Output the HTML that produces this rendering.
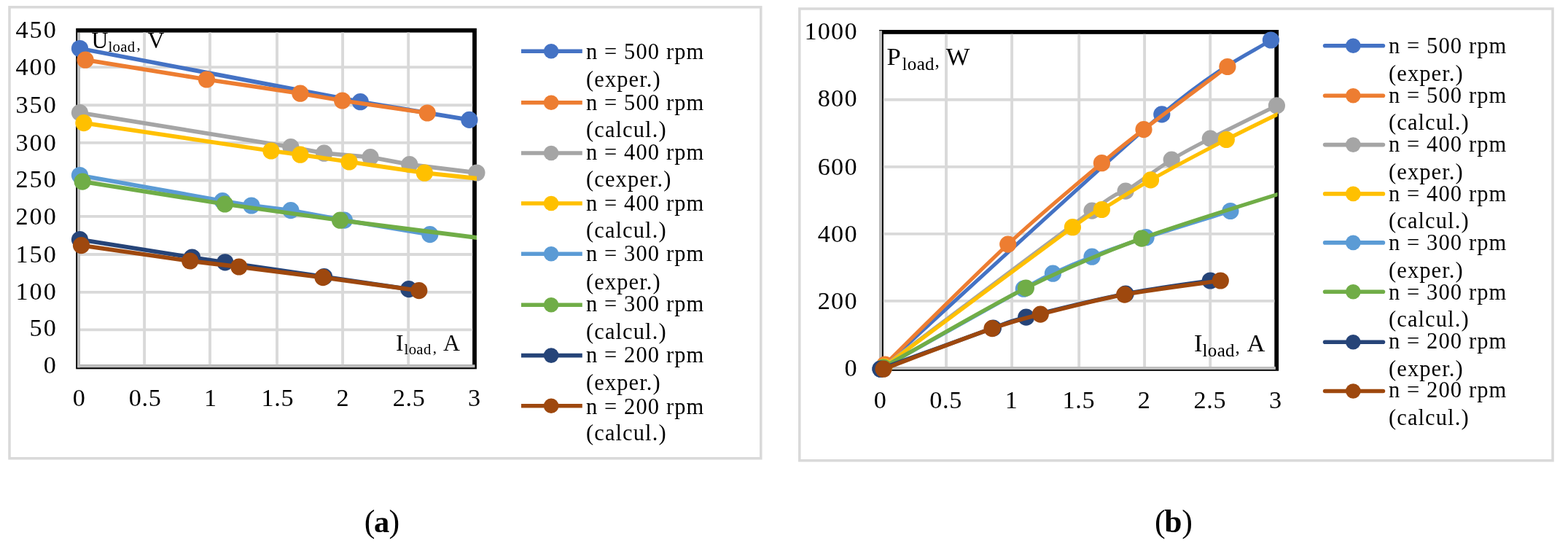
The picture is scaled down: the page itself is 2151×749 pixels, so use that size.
<!DOCTYPE html>
<html lang="en">
<head>
<meta charset="utf-8">
<title>Load characteristics</title>
<style>
html,body{margin:0;padding:0;background:#fff;}
body{width:2151px;height:749px;overflow:hidden;}
svg{display:block;}
svg text{font-family:"Liberation Serif", serif;font-size:33.3px;fill:#000;}
svg text.ax{font-size:34.2px;letter-spacing:2px;}
svg text.lg{font-size:30.5px;letter-spacing:1.1px;}
svg text.axb{letter-spacing:1.2px;}
svg text.axd{letter-spacing:0.7px;}
svg text.tl{letter-spacing:0.3px;}
</style>
</head>
<body>
<svg width="2151" height="749" viewBox="0 0 2151 749">
<rect x="0" y="0" width="2151" height="749" fill="#fff"/>
<g id="chart1">
<rect x="13" y="9.8" width="1030.8" height="619.0" fill="#fff" stroke="#D9D9D9" stroke-width="3.5"/>
<rect x="107.1" y="41.7" width="543.90" height="461.70" fill="#fff" stroke="#000" stroke-width="5.8"/>
<line x1="198.1" y1="44.5" x2="198.1" y2="500.6" stroke="#D9D9D9" stroke-width="3.9"/>
<line x1="288.0" y1="44.5" x2="288.0" y2="500.6" stroke="#D9D9D9" stroke-width="3.9"/>
<line x1="380.0" y1="44.5" x2="380.0" y2="500.6" stroke="#D9D9D9" stroke-width="3.9"/>
<line x1="470.1" y1="44.5" x2="470.1" y2="500.6" stroke="#D9D9D9" stroke-width="3.9"/>
<line x1="560.2" y1="44.5" x2="560.2" y2="500.6" stroke="#D9D9D9" stroke-width="3.9"/>
<line x1="109.9" y1="92.1" x2="648.2" y2="92.1" stroke="#D9D9D9" stroke-width="3.9"/>
<line x1="109.9" y1="144.2" x2="648.2" y2="144.2" stroke="#D9D9D9" stroke-width="3.9"/>
<line x1="109.9" y1="195.9" x2="648.2" y2="195.9" stroke="#D9D9D9" stroke-width="3.9"/>
<line x1="109.9" y1="247.5" x2="648.2" y2="247.5" stroke="#D9D9D9" stroke-width="3.9"/>
<line x1="109.9" y1="296.9" x2="648.2" y2="296.9" stroke="#D9D9D9" stroke-width="3.9"/>
<line x1="109.9" y1="349.0" x2="648.2" y2="349.0" stroke="#D9D9D9" stroke-width="3.9"/>
<line x1="109.9" y1="400.9" x2="648.2" y2="400.9" stroke="#D9D9D9" stroke-width="3.9"/>
<line x1="109.9" y1="452.4" x2="648.2" y2="452.4" stroke="#D9D9D9" stroke-width="3.9"/>
<line x1="108" y1="44.5" x2="108" y2="504.3" stroke="#BFBFBF" stroke-width="3.9"/>
<line x1="106" y1="502.3" x2="651.5" y2="502.3" stroke="#BFBFBF" stroke-width="3.9"/>
<text class="tl"><tspan x="125.6" y="65.6" style="font-size:31.8px">U</tspan><tspan x="148.4" y="70.6" style="font-size:20.8px">load</tspan><tspan dx="2.2" dy="-2.6" style="font-size:20.8px">, </tspan><tspan x="202.6" y="65.6" style="font-size:31.8px">V</tspan></text>
<text class="tl"><tspan x="543" y="481" style="font-size:31.8px">I</tspan><tspan x="554.6" y="486.2" style="font-size:20.8px">load</tspan><tspan dx="2.2" dy="-2.6" style="font-size:20.8px">, </tspan><tspan x="608" y="481" style="font-size:31.8px">A</tspan></text>
<clipPath id="clip1"><rect x="87.1" y="21.7" width="566.90" height="501.70"/></clipPath>
<polyline points="109.5,66.5 494.3,139.7 643.9,164.4" fill="none" stroke="#4472C4" stroke-width="5.8" stroke-linejoin="round" clip-path="url(#clip1)"/>
<circle cx="109.5" cy="66.5" r="11.6" fill="#4472C4"/>
<circle cx="494.3" cy="139.7" r="11.6" fill="#4472C4"/>
<circle cx="643.9" cy="164.4" r="11.6" fill="#4472C4"/>
<polyline points="117.1,82.2 283.4,109.0 411.9,128.2 469.6,138.0 586.2,155.0" fill="none" stroke="#ED7D31" stroke-width="5.8" stroke-linejoin="round" clip-path="url(#clip1)"/>
<circle cx="117.1" cy="82.2" r="11.6" fill="#ED7D31"/>
<circle cx="283.4" cy="109.0" r="11.6" fill="#ED7D31"/>
<circle cx="411.9" cy="128.2" r="11.6" fill="#ED7D31"/>
<circle cx="469.6" cy="138.0" r="11.6" fill="#ED7D31"/>
<circle cx="586.2" cy="155.0" r="11.6" fill="#ED7D31"/>
<polyline points="109.5,154.6 398.9,201.6 444.6,210.2 508.1,215.6 561.8,225.6 653.9,237.0" fill="none" stroke="#A5A5A5" stroke-width="5.8" stroke-linejoin="round" clip-path="url(#clip1)"/>
<circle cx="109.5" cy="154.6" r="11.6" fill="#A5A5A5"/>
<circle cx="398.9" cy="201.6" r="11.6" fill="#A5A5A5"/>
<circle cx="444.6" cy="210.2" r="11.6" fill="#A5A5A5"/>
<circle cx="508.1" cy="215.6" r="11.6" fill="#A5A5A5"/>
<circle cx="561.8" cy="225.6" r="11.6" fill="#A5A5A5"/>
<circle cx="653.9" cy="237.0" r="11.6" fill="#A5A5A5"/>
<polyline points="114.9,168.6 371.9,207.0 411.9,212.2 479.0,222.0 582.4,237.2 700.5,249.7" fill="none" stroke="#FFC000" stroke-width="5.8" stroke-linejoin="round" clip-path="url(#clip1)"/>
<circle cx="114.9" cy="168.6" r="11.6" fill="#FFC000"/>
<circle cx="371.9" cy="207.0" r="11.6" fill="#FFC000"/>
<circle cx="411.9" cy="212.2" r="11.6" fill="#FFC000"/>
<circle cx="479.0" cy="222.0" r="11.6" fill="#FFC000"/>
<circle cx="582.4" cy="237.2" r="11.6" fill="#FFC000"/>
<polyline points="109.5,240.5 305.2,275.6 344.9,282.0 398.9,288.6 472.4,302.1 589.8,321.6" fill="none" stroke="#5B9BD5" stroke-width="5.8" stroke-linejoin="round" clip-path="url(#clip1)"/>
<circle cx="109.5" cy="240.5" r="11.6" fill="#5B9BD5"/>
<circle cx="305.2" cy="275.6" r="11.6" fill="#5B9BD5"/>
<circle cx="344.9" cy="282.0" r="11.6" fill="#5B9BD5"/>
<circle cx="398.9" cy="288.6" r="11.6" fill="#5B9BD5"/>
<circle cx="472.4" cy="302.1" r="11.6" fill="#5B9BD5"/>
<circle cx="589.8" cy="321.6" r="11.6" fill="#5B9BD5"/>
<polyline points="113.1,249.1 308.4,280.0 466.6,302.2 700.5,331.9" fill="none" stroke="#70AD47" stroke-width="5.8" stroke-linejoin="round" clip-path="url(#clip1)"/>
<circle cx="113.1" cy="249.1" r="11.6" fill="#70AD47"/>
<circle cx="308.4" cy="280.0" r="11.6" fill="#70AD47"/>
<circle cx="466.6" cy="302.2" r="11.6" fill="#70AD47"/>
<polyline points="109.5,328.6 263.5,353.0 308.8,359.8 444.6,379.6 560.8,396.6" fill="none" stroke="#264478" stroke-width="5.8" stroke-linejoin="round" clip-path="url(#clip1)"/>
<circle cx="109.5" cy="328.6" r="11.6" fill="#264478"/>
<circle cx="263.5" cy="353.0" r="11.6" fill="#264478"/>
<circle cx="308.8" cy="359.8" r="11.6" fill="#264478"/>
<circle cx="444.6" cy="379.6" r="11.6" fill="#264478"/>
<circle cx="560.8" cy="396.6" r="11.6" fill="#264478"/>
<polyline points="111.5,336.6 260.7,358.0 327.8,366.0 443.0,380.6 574.8,398.6" fill="none" stroke="#9E480E" stroke-width="5.8" stroke-linejoin="round" clip-path="url(#clip1)"/>
<circle cx="111.5" cy="336.6" r="11.6" fill="#9E480E"/>
<circle cx="260.7" cy="358.0" r="11.6" fill="#9E480E"/>
<circle cx="327.8" cy="366.0" r="11.6" fill="#9E480E"/>
<circle cx="443.0" cy="380.6" r="11.6" fill="#9E480E"/>
<circle cx="574.8" cy="398.6" r="11.6" fill="#9E480E"/>
<text class="ax" x="78.8" y="51.6" text-anchor="end">450</text>
<text class="ax" x="78.8" y="103.3" text-anchor="end">400</text>
<text class="ax" x="78.8" y="155.4" text-anchor="end">350</text>
<text class="ax" x="78.8" y="207.1" text-anchor="end">300</text>
<text class="ax" x="78.8" y="257.4" text-anchor="end">250</text>
<text class="ax" x="78.8" y="308.1" text-anchor="end">200</text>
<text class="ax" x="78.8" y="359.8" text-anchor="end">150</text>
<text class="ax" x="78.8" y="411.3" text-anchor="end">100</text>
<text class="ax" x="78.8" y="460.8" text-anchor="end">50</text>
<text class="ax" x="78.8" y="512.3" text-anchor="end">0</text>
<text class="ax" x="109.3" y="557.0" text-anchor="middle">0</text>
<text class="ax axd" x="199.2" y="557.0" text-anchor="middle">0.5</text>
<text class="ax" x="289.6" y="557.0" text-anchor="middle">1</text>
<text class="ax axd" x="380.8" y="557.0" text-anchor="middle">1.5</text>
<text class="ax" x="471.1" y="557.0" text-anchor="middle">2</text>
<text class="ax axd" x="561.2" y="557.0" text-anchor="middle">2.5</text>
<text class="ax" x="651.5" y="557.0" text-anchor="middle">3</text>
</g>
<g>
<line x1="715" y1="70.2" x2="798.8" y2="70.2" stroke="#4472C4" stroke-width="5.6" stroke-linecap="butt"/>
<circle cx="756.1" cy="70.2" r="10.3" fill="#4472C4"/>
<text class="lg" x="804" y="81.0">n = 500 rpm</text>
<text class="lg" x="804" y="119.0">(exper.)</text>
<line x1="715" y1="140.7" x2="798.8" y2="140.7" stroke="#ED7D31" stroke-width="5.6" stroke-linecap="butt"/>
<circle cx="756.1" cy="140.7" r="10.3" fill="#ED7D31"/>
<text class="lg" x="804" y="150.5">n = 500 rpm</text>
<text class="lg" x="804" y="188.2">(calcul.)</text>
<line x1="715" y1="210.0" x2="798.8" y2="210.0" stroke="#A5A5A5" stroke-width="5.6" stroke-linecap="butt"/>
<circle cx="756.1" cy="210.0" r="10.3" fill="#A5A5A5"/>
<text class="lg" x="804" y="219.0">n = 400 rpm</text>
<text class="lg" x="804" y="256.4">(cexper.)</text>
<line x1="715" y1="279.0" x2="798.8" y2="279.0" stroke="#FFC000" stroke-width="5.6" stroke-linecap="butt"/>
<circle cx="756.1" cy="279.0" r="10.3" fill="#FFC000"/>
<text class="lg" x="804" y="288.6">n = 400 rpm</text>
<text class="lg" x="804" y="326.4">(calcul.)</text>
<line x1="715" y1="348.2" x2="798.8" y2="348.2" stroke="#5B9BD5" stroke-width="5.6" stroke-linecap="butt"/>
<circle cx="756.1" cy="348.2" r="10.3" fill="#5B9BD5"/>
<text class="lg" x="804" y="357.9">n = 300 rpm</text>
<text class="lg" x="804" y="396.6">(exper.)</text>
<line x1="715" y1="418.3" x2="798.8" y2="418.3" stroke="#70AD47" stroke-width="5.6" stroke-linecap="butt"/>
<circle cx="756.1" cy="418.3" r="10.3" fill="#70AD47"/>
<text class="lg" x="804" y="427.4">n = 300 rpm</text>
<text class="lg" x="804" y="465.4">(calcul.)</text>
<line x1="715" y1="487.6" x2="798.8" y2="487.6" stroke="#264478" stroke-width="5.6" stroke-linecap="butt"/>
<circle cx="756.1" cy="487.6" r="10.3" fill="#264478"/>
<text class="lg" x="804" y="496.7">n = 200 rpm</text>
<text class="lg" x="804" y="534.9">(exper.)</text>
<line x1="715" y1="556.8" x2="798.8" y2="556.8" stroke="#9E480E" stroke-width="5.6" stroke-linecap="butt"/>
<circle cx="756.1" cy="556.8" r="10.3" fill="#9E480E"/>
<text class="lg" x="804" y="567.5">n = 200 rpm</text>
<text class="lg" x="804" y="603.6">(calcul.)</text>
</g>
<g id="chart2">
<rect x="1096.8" y="12" width="1033.2" height="619.8" fill="#fff" stroke="#D9D9D9" stroke-width="3.5"/>
<rect x="1209" y="43.9" width="542.20" height="462.00" fill="#fff" stroke="#000" stroke-width="5.8"/>
<line x1="1298.0" y1="46.7" x2="1298.0" y2="503.1" stroke="#D9D9D9" stroke-width="3.9"/>
<line x1="1388.1" y1="46.7" x2="1388.1" y2="503.1" stroke="#D9D9D9" stroke-width="3.9"/>
<line x1="1480.2" y1="46.7" x2="1480.2" y2="503.1" stroke="#D9D9D9" stroke-width="3.9"/>
<line x1="1570.1" y1="46.7" x2="1570.1" y2="503.1" stroke="#D9D9D9" stroke-width="3.9"/>
<line x1="1660.2" y1="46.7" x2="1660.2" y2="503.1" stroke="#D9D9D9" stroke-width="3.9"/>
<line x1="1211.8" y1="136.8" x2="1748.4" y2="136.8" stroke="#D9D9D9" stroke-width="3.9"/>
<line x1="1211.8" y1="228.9" x2="1748.4" y2="228.9" stroke="#D9D9D9" stroke-width="3.9"/>
<line x1="1211.8" y1="320.9" x2="1748.4" y2="320.9" stroke="#D9D9D9" stroke-width="3.9"/>
<line x1="1211.8" y1="412.9" x2="1748.4" y2="412.9" stroke="#D9D9D9" stroke-width="3.9"/>
<line x1="1208" y1="42.2" x2="1208" y2="507" stroke="#BFBFBF" stroke-width="3.9"/>
<line x1="1206" y1="505" x2="1749.9" y2="505" stroke="#BFBFBF" stroke-width="3.9"/>
<text class="tl"><tspan x="1216.4" y="88.9" style="font-size:34.6px">P</tspan><tspan x="1237.6" y="96.2" style="font-size:25px">load</tspan><tspan dx="0.6" dy="-4.6" style="font-size:25px">, </tspan><tspan x="1297.8" y="88.9" style="font-size:34.6px">W</tspan></text>
<text class="tl"><tspan x="1638" y="482.4" style="font-size:34.6px">I</tspan><tspan x="1649.6" y="489.4" style="font-size:25px">load</tspan><tspan dx="0.6" dy="-4.6" style="font-size:25px">, </tspan><tspan x="1710.4" y="482.4" style="font-size:34.6px">A</tspan></text>
<clipPath id="clip2"><rect x="1189" y="23.9" width="563.60" height="502.00"/></clipPath>
<path d="M1208.0,506.2 C1267.8,452.1 1510.8,226.8 1593.8,156.9 C1676.8,87.0 1720.2,70.8 1743.4,55.0" fill="none" stroke="#4472C4" stroke-width="5.1" stroke-linejoin="round" clip-path="url(#clip2)"/>
<circle cx="1208.0" cy="506.2" r="11.6" fill="#4472C4"/>
<circle cx="1593.8" cy="156.9" r="11.6" fill="#4472C4"/>
<circle cx="1743.4" cy="55.0" r="11.6" fill="#4472C4"/>
<path d="M1214.0,500.0 C1240.1,474.4 1336.6,377.9 1382.7,335.1 C1428.8,292.3 1482.5,248.1 1511.4,223.7 C1540.3,199.3 1542.3,198.1 1569.0,177.6 C1595.7,157.1 1666.1,104.8 1683.9,91.5" fill="none" stroke="#ED7D31" stroke-width="5.1" stroke-linejoin="round" clip-path="url(#clip2)"/>
<circle cx="1214.0" cy="500.0" r="11.6" fill="#ED7D31"/>
<circle cx="1382.7" cy="335.1" r="11.6" fill="#ED7D31"/>
<circle cx="1511.4" cy="223.7" r="11.6" fill="#ED7D31"/>
<circle cx="1569.0" cy="177.6" r="11.6" fill="#ED7D31"/>
<circle cx="1683.9" cy="91.5" r="11.6" fill="#ED7D31"/>
<path d="M1208.0,506.0 C1253.0,472.4 1445.9,326.9 1498.0,289.1 C1550.1,251.3 1527.2,273.0 1544.1,262.1 C1561.0,251.3 1589.2,230.3 1607.2,219.1 C1625.2,207.9 1637.9,201.6 1660.3,190.1 C1682.7,178.6 1737.3,151.9 1751.4,144.9" fill="none" stroke="#A5A5A5" stroke-width="5.2" stroke-linejoin="round" clip-path="url(#clip2)"/>
<circle cx="1208.0" cy="506.0" r="11.6" fill="#A5A5A5"/>
<circle cx="1498.0" cy="289.1" r="11.6" fill="#A5A5A5"/>
<circle cx="1544.1" cy="262.1" r="11.6" fill="#A5A5A5"/>
<circle cx="1607.2" cy="219.1" r="11.6" fill="#A5A5A5"/>
<circle cx="1660.3" cy="190.1" r="11.6" fill="#A5A5A5"/>
<circle cx="1751.4" cy="144.9" r="11.6" fill="#A5A5A5"/>
<path d="M1213.0,503.0 C1253.1,473.3 1425.1,345.1 1471.4,311.7 C1517.7,278.3 1494.8,297.5 1511.4,287.5 C1528.0,277.5 1552.0,261.8 1578.5,246.9 C1605.0,232.0 1649.5,208.3 1682.3,191.5 C1715.1,174.7 1773.3,146.7 1790.0,138.5" fill="none" stroke="#FFC000" stroke-width="5.2" stroke-linejoin="round" clip-path="url(#clip2)"/>
<circle cx="1213.0" cy="503.0" r="11.6" fill="#FFC000"/>
<circle cx="1471.4" cy="311.7" r="11.6" fill="#FFC000"/>
<circle cx="1511.4" cy="287.5" r="11.6" fill="#FFC000"/>
<circle cx="1578.5" cy="246.9" r="11.6" fill="#FFC000"/>
<circle cx="1682.3" cy="191.5" r="11.6" fill="#FFC000"/>
<path d="M1208.0,506.0 C1238.4,489.0 1367.7,416.5 1404.3,396.2 C1440.9,375.9 1429.9,382.0 1444.4,375.2 C1458.9,368.4 1478.2,359.9 1498.0,352.2 C1517.8,344.5 1542.7,335.4 1572.1,325.7 C1601.5,316.0 1670.0,295.1 1687.9,289.5" fill="none" stroke="#5B9BD5" stroke-width="5.4" stroke-linejoin="round" clip-path="url(#clip2)"/>
<circle cx="1208.0" cy="506.0" r="11.6" fill="#5B9BD5"/>
<circle cx="1404.3" cy="396.2" r="11.6" fill="#5B9BD5"/>
<circle cx="1444.4" cy="375.2" r="11.6" fill="#5B9BD5"/>
<circle cx="1498.0" cy="352.2" r="11.6" fill="#5B9BD5"/>
<circle cx="1572.1" cy="325.7" r="11.6" fill="#5B9BD5"/>
<circle cx="1687.9" cy="289.5" r="11.6" fill="#5B9BD5"/>
<path d="M1212.0,504.0 C1242.3,487.1 1352.5,422.5 1407.4,395.1 C1462.3,367.7 1505.2,349.3 1566.1,327.1 C1627.0,304.9 1763.7,263.5 1800.0,251.8" fill="none" stroke="#70AD47" stroke-width="5.4" stroke-linejoin="round" clip-path="url(#clip2)"/>
<circle cx="1212.0" cy="504.0" r="11.6" fill="#70AD47"/>
<circle cx="1407.4" cy="395.1" r="11.6" fill="#70AD47"/>
<circle cx="1566.1" cy="327.1" r="11.6" fill="#70AD47"/>
<path d="M1208.0,506.2 C1231.9,497.5 1331.4,461.0 1362.4,450.0 C1393.4,439.0 1379.5,442.4 1407.7,435.1 C1435.9,427.8 1504.9,410.9 1544.1,403.1 C1583.3,395.3 1642.3,387.8 1660.3,385.0" fill="none" stroke="#264478" stroke-width="5.6" stroke-linejoin="round" clip-path="url(#clip2)"/>
<circle cx="1208.0" cy="506.2" r="11.6" fill="#264478"/>
<circle cx="1362.4" cy="450.0" r="11.6" fill="#264478"/>
<circle cx="1407.7" cy="435.1" r="11.6" fill="#264478"/>
<circle cx="1544.1" cy="403.1" r="11.6" fill="#264478"/>
<circle cx="1660.3" cy="385.0" r="11.6" fill="#264478"/>
<path d="M1212.0,506.2 C1235.1,497.6 1327.6,462.2 1361.0,450.6 C1394.4,439.0 1399.1,438.3 1427.3,431.1 C1455.5,423.9 1504.4,411.2 1542.7,404.1 C1581.0,397.0 1653.9,388.0 1674.3,385.0" fill="none" stroke="#9E480E" stroke-width="5.6" stroke-linejoin="round" clip-path="url(#clip2)"/>
<circle cx="1212.0" cy="506.2" r="11.6" fill="#9E480E"/>
<circle cx="1361.0" cy="450.6" r="11.6" fill="#9E480E"/>
<circle cx="1427.3" cy="431.1" r="11.6" fill="#9E480E"/>
<circle cx="1542.7" cy="404.1" r="11.6" fill="#9E480E"/>
<circle cx="1674.3" cy="385.0" r="11.6" fill="#9E480E"/>
<text class="ax axb" x="1176.7" y="54.0" text-anchor="end">1000</text>
<text class="ax axb" x="1176.7" y="146.2" text-anchor="end">800</text>
<text class="ax axb" x="1176.7" y="239.5" text-anchor="end">600</text>
<text class="ax axb" x="1176.7" y="331.7" text-anchor="end">400</text>
<text class="ax axb" x="1176.7" y="424.1" text-anchor="end">200</text>
<text class="ax axb" x="1176.7" y="515.8" text-anchor="end">0</text>
<text class="ax axb" x="1208.0" y="559.6" text-anchor="middle">0</text>
<text class="ax axb axd" x="1297.7" y="559.6" text-anchor="middle">0.5</text>
<text class="ax axb" x="1387.8" y="559.6" text-anchor="middle">1</text>
<text class="ax axb axd" x="1479.9" y="559.6" text-anchor="middle">1.5</text>
<text class="ax axb" x="1569.8" y="559.6" text-anchor="middle">2</text>
<text class="ax axb axd" x="1659.9" y="559.6" text-anchor="middle">2.5</text>
<text class="ax axb" x="1750.2" y="559.6" text-anchor="middle">3</text>
</g>
<g>
<line x1="1817.6" y1="62.8" x2="1897.4" y2="62.8" stroke="#4472C4" stroke-width="5.6" stroke-linecap="round"/>
<circle cx="1856.3" cy="62.8" r="10.3" fill="#4472C4"/>
<text class="lg" x="1905" y="73.3">n = 500 rpm</text>
<text class="lg" x="1905" y="110.8">(exper.)</text>
<line x1="1817.6" y1="131.2" x2="1897.4" y2="131.2" stroke="#ED7D31" stroke-width="5.6" stroke-linecap="round"/>
<circle cx="1856.3" cy="131.2" r="10.3" fill="#ED7D31"/>
<text class="lg" x="1905" y="140.8">n = 500 rpm</text>
<text class="lg" x="1905" y="178.3">(calcul.)</text>
<line x1="1817.6" y1="198.6" x2="1897.4" y2="198.6" stroke="#A5A5A5" stroke-width="5.6" stroke-linecap="round"/>
<circle cx="1856.3" cy="198.6" r="10.3" fill="#A5A5A5"/>
<text class="lg" x="1905" y="208.2">n = 400 rpm</text>
<text class="lg" x="1905" y="245.7">(exper.)</text>
<line x1="1817.6" y1="265.9" x2="1897.4" y2="265.9" stroke="#FFC000" stroke-width="5.6" stroke-linecap="round"/>
<circle cx="1856.3" cy="265.9" r="10.3" fill="#FFC000"/>
<text class="lg" x="1905" y="275.7">n = 400 rpm</text>
<text class="lg" x="1905" y="313.2">(calcul.)</text>
<line x1="1817.6" y1="332.9" x2="1897.4" y2="332.9" stroke="#5B9BD5" stroke-width="5.6" stroke-linecap="round"/>
<circle cx="1856.3" cy="332.9" r="10.3" fill="#5B9BD5"/>
<text class="lg" x="1905" y="343.1">n = 300 rpm</text>
<text class="lg" x="1905" y="380.6">(exper.)</text>
<line x1="1817.6" y1="400.3" x2="1897.4" y2="400.3" stroke="#70AD47" stroke-width="5.6" stroke-linecap="round"/>
<circle cx="1856.3" cy="400.3" r="10.3" fill="#70AD47"/>
<text class="lg" x="1905" y="410.6">n = 300 rpm</text>
<text class="lg" x="1905" y="448.1">(calcul.)</text>
<line x1="1817.6" y1="469.2" x2="1897.4" y2="469.2" stroke="#264478" stroke-width="5.6" stroke-linecap="round"/>
<circle cx="1856.3" cy="469.2" r="10.3" fill="#264478"/>
<text class="lg" x="1905" y="478.1">n = 200 rpm</text>
<text class="lg" x="1905" y="515.6">(exper.)</text>
<line x1="1817.6" y1="536.5" x2="1897.4" y2="536.5" stroke="#9E480E" stroke-width="5.6" stroke-linecap="round"/>
<circle cx="1856.3" cy="536.5" r="10.3" fill="#9E480E"/>
<text class="lg" x="1905" y="544.6">n = 200 rpm</text>
<text class="lg" x="1905" y="583.0">(calcul.)</text>
</g>
<text class="cap"><tspan x="499.7" y="730.3" style="font-size:44.2px">(</tspan><tspan x="512.9" y="729.6" style="font-size:42.5px;font-weight:bold">a</tspan><tspan x="533.4" y="730.3" style="font-size:44.2px">)</tspan></text>
<text class="cap"><tspan x="1583.9" y="730.3" style="font-size:44.2px">(</tspan><tspan x="1597.3" y="729.7" style="font-size:43.5px;font-weight:bold">b</tspan><tspan x="1621.3" y="730.3" style="font-size:44.2px">)</tspan></text>
</svg>
</body>
</html>
